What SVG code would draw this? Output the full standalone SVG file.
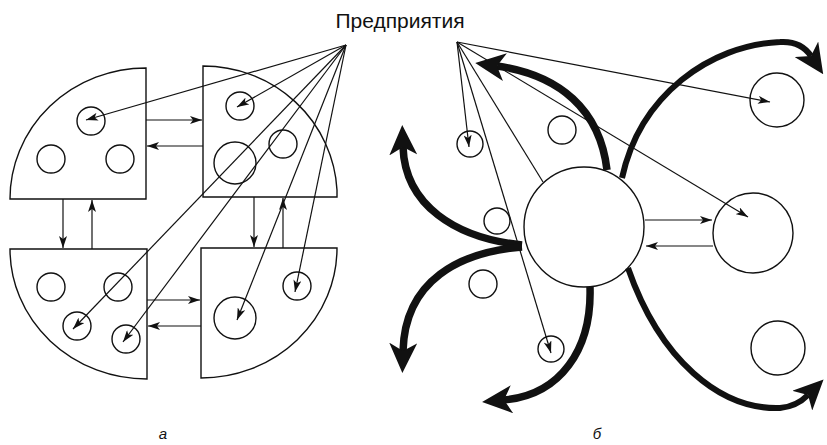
<svg xmlns="http://www.w3.org/2000/svg" width="827" height="445" viewBox="0 0 827 445">
<style>
.s{fill:none;stroke:#111;stroke-width:1.4}
.c{fill:#fff;stroke:#111;stroke-width:1.4}
.l{fill:none;stroke:#111;stroke-width:1.2}
.t{fill:none;stroke:#111;stroke-width:7.5}
.lbl{font-family:"Liberation Sans",Arial,sans-serif;fill:#111}
</style>
<defs>
<marker id="a" viewBox="0 0 12 8" markerWidth="12" markerHeight="8" refX="12" refY="4" orient="auto" markerUnits="userSpaceOnUse">
<path d="M0,0 L12,4 L0,8 L3,4 z" fill="#111"/>
</marker>
<marker id="b" viewBox="0 0 30 28" markerWidth="30" markerHeight="28" refX="8" refY="14" orient="auto" markerUnits="userSpaceOnUse">
<path d="M0,0 L30,14 L0,28 L8,14 z" fill="#111"/>
</marker>
</defs>
<rect width="827" height="445" fill="#fff"/>
<text class="lbl" x="400" y="28" font-size="21" text-anchor="middle">Предприятия</text>
<text class="lbl" x="163" y="439" font-size="15" font-style="italic" text-anchor="middle">а</text>
<text class="lbl" x="597" y="439" font-size="15" font-style="italic" text-anchor="middle">б</text>

<g id="a-topleft">
<path class="s" d="M146,68 L146,199 L10,199 A136,131 0 0 1 146,68 Z"/>
<circle class="s" cx="91" cy="121" r="14"/>
<circle class="s" cx="51" cy="159" r="14"/>
<circle class="s" cx="120" cy="159" r="14"/>
</g>
<g id="a-topright">
<path class="s" d="M203,66 A134,131 0 0 1 337,190 L337,197 L203,197 Z"/>
<circle class="s" cx="240" cy="106" r="14"/>
<circle class="s" cx="283" cy="144" r="14"/>
<circle class="s" cx="235" cy="163" r="21"/>
</g>
<g id="a-bottomleft">
<path class="s" d="M10,249 L147,249 L147,379 A137,130 0 0 1 10,249 Z"/>
<circle class="s" cx="51" cy="287" r="14"/>
<circle class="s" cx="118" cy="287" r="14"/>
<circle class="s" cx="77" cy="326" r="14"/>
<circle class="s" cx="126" cy="339" r="14"/>
</g>
<g id="a-bottomright">
<path class="s" d="M201,248 L337,248 A136,130 0 0 1 201,378 Z"/>
<circle class="s" cx="235" cy="318" r="21"/>
<circle class="s" cx="297" cy="286" r="14"/>
</g>

<g id="b-nodes">
<circle class="s" cx="562" cy="130" r="14"/>
<circle class="s" cx="470" cy="144" r="13"/>
<circle class="s" cx="497" cy="221" r="13"/>
<circle class="s" cx="483" cy="284" r="14"/>
<circle class="s" cx="551" cy="349" r="13"/>
<circle class="s" cx="777" cy="100" r="27"/>
<circle class="s" cx="778" cy="348" r="27"/>
<circle class="s" cx="753" cy="233" r="40"/>
</g>
<g id="b-center">
<circle class="c" cx="584" cy="227" r="60"/>
</g>

<g id="connectors">
<g id="a-links">
<line class="l" x1="146" y1="120" x2="202" y2="120" marker-end="url(#a)"/>
<line class="l" x1="203" y1="146" x2="147" y2="146" marker-end="url(#a)"/>
<line class="l" x1="147" y1="300" x2="200" y2="300" marker-end="url(#a)"/>
<line class="l" x1="201" y1="326" x2="148" y2="326" marker-end="url(#a)"/>
<line class="l" x1="63" y1="199" x2="63" y2="248" marker-end="url(#a)"/>
<line class="l" x1="92" y1="249" x2="92" y2="200" marker-end="url(#a)"/>
<line class="l" x1="254" y1="197" x2="254" y2="247" marker-end="url(#a)"/>
<line class="l" x1="283" y1="248" x2="283" y2="198" marker-end="url(#a)"/>
<line class="l" x1="346" y1="45" x2="86" y2="120" marker-end="url(#a)"/>
<line class="l" x1="346" y1="45" x2="237" y2="107" marker-end="url(#a)"/>
<line class="l" x1="346" y1="45" x2="73" y2="329" marker-end="url(#a)"/>
<line class="l" x1="346" y1="45" x2="123" y2="342" marker-end="url(#a)"/>
<line class="l" x1="346" y1="45" x2="237" y2="320" marker-end="url(#a)"/>
<line class="l" x1="346" y1="45" x2="295" y2="292" marker-end="url(#a)"/>
</g>
<g id="b-links">
<line class="l" x1="457" y1="42" x2="469" y2="147" marker-end="url(#a)"/>
<line class="l" x1="457" y1="42" x2="551" y2="353" marker-end="url(#a)"/>
<line class="l" x1="457" y1="42" x2="543" y2="182"/>
<line class="l" x1="457" y1="42" x2="748" y2="217" marker-end="url(#a)"/>
<line class="l" x1="457" y1="42" x2="770" y2="102" marker-end="url(#a)"/>
<line class="l" x1="645" y1="220" x2="712" y2="220" marker-end="url(#a)"/>
<line class="l" x1="713" y1="246" x2="646" y2="246" marker-end="url(#a)"/>
<path class="t" d="M607,170 C600,110 560,75 497,66" marker-end="url(#b)"/>
<path class="t" style="stroke-width:6" d="M622,178 C640,95 710,45 780,42 C795,41 805,47 811,56" marker-end="url(#b)"/>
<path class="t" d="M522,245 C455,238 405,205 403,147" marker-end="url(#b)"/>
<path class="t" d="M522,247 C460,252 405,280 403,351" marker-end="url(#b)"/>
<path class="t" d="M590,287 C592,350 560,395 504,400" marker-end="url(#b)"/>
<path class="t" style="stroke-width:6" d="M628,268 C660,360 720,410 780,408 C792,407 801,402 808,395" marker-end="url(#b)"/>
</g>
</g>
</svg>
